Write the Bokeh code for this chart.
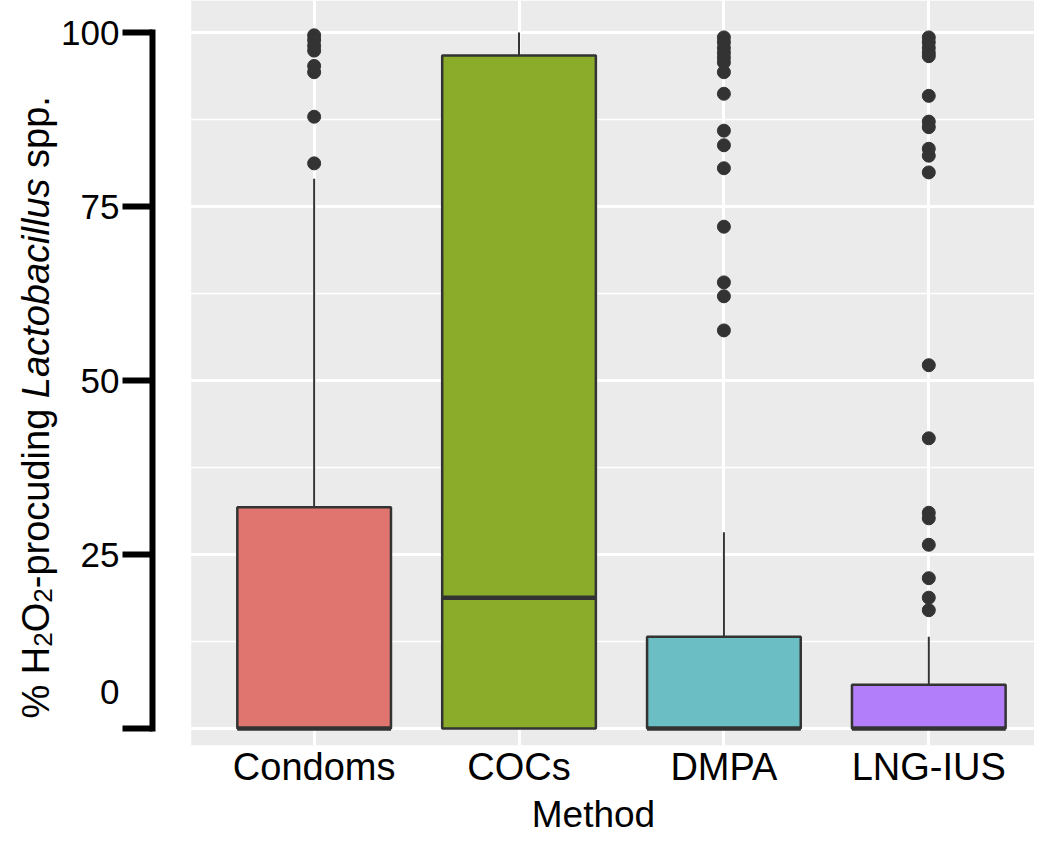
import math
from bokeh.plotting import figure
from bokeh.layouts import row
from bokeh.models import FixedTicker, BoxAnnotation, Range1d, LinearAxis
from bokeh.core.properties import value
from bokeh.embed import file_html
from bokeh.resources import INLINE

# ---------------- data ----------------
categories = ["Condoms", "COCs", "DMPA", "LNG-IUS"]
q1 = [0, 0, 0, 0]
medians = [0, 18.8, 0, 0]
q3 = [31.8, 96.7, 13.2, 6.3]
upper_whisker = [79.0, 100.0, 28.2, 13.2]
lower_whisker = [0, 0, 0, 0]

outliers_condoms = [99.6, 98.9, 98.1, 97.4, 95.2, 94.3, 87.9, 81.2]
outliers_cocs = []
outliers_dmpa = [99.3, 98.6, 97.8, 97.1, 96.4, 95.7, 94.3, 91.2, 85.9, 83.8,
                 80.5, 72.1, 64.1, 62.1, 57.2]
outliers_lng = [99.3, 98.6, 97.8, 97.1, 96.6, 90.9, 87.2, 86.4, 83.3, 82.3,
                79.9, 52.2, 41.7, 31.0, 30.2, 26.4, 21.6, 18.8, 17.0]

box_colors = ["#DF756E", "#8BAC2A", "#6BBEC3", "#B27EF9"]
y_ticks = [0, 25, 50, 75, 100]
y_tick_labels = ["0", "25", "50", "75", "100"]
# in the original the "0" label sits a little above its tick
y_tick_label_pos = [5.3, 25, 50, 75, 100]
y_minor = [12.5, 37.5, 62.5, 87.5]

FONT = "Liberation Sans"
H = 840
BOTTOM = 95
FRAME_H = H - BOTTOM
LEFT_W = 58

# ---------------- main figure ----------------
xs = [i + 1 for i in range(len(categories))]
p = figure(width=1034 - LEFT_W, height=H,
           x_range=Range1d(0.211, 4.516), y_range=Range1d(-2.44, 104.6),
           output_backend="svg", toolbar_location=None,
           min_border_left=150 - LEFT_W, min_border_right=0, min_border_top=0,
           min_border_bottom=BOTTOM)
p.outline_line_color = None
p.background_fill_color = "white"
p.border_fill_color = "white"

# gray ggplot panel (drawn below the grid)
panel = BoxAnnotation(left=0.4, fill_color="#EBEBEB", fill_alpha=1.0,
                      line_alpha=0, level="image")
p.add_layout(panel)

# grids
p.xgrid.ticker = FixedTicker(ticks=xs)
p.xgrid.grid_line_color = "white"
p.xgrid.grid_line_width = 3
p.ygrid.ticker = FixedTicker(ticks=y_ticks, minor_ticks=y_minor)
p.ygrid.grid_line_color = "white"
p.ygrid.grid_line_width = 3
p.ygrid.minor_grid_line_color = "white"
p.ygrid.minor_grid_line_width = 1.5

# y axis: line + ticks (bracket from 0 to 100)
ya = p.yaxis[0]
ya.ticker = FixedTicker(ticks=y_ticks)
ya.bounds = (0, 100)
ya.axis_line_color = "black"
ya.axis_line_width = 6
ya.axis_line_cap = "square"
ya.major_tick_line_color = "black"
ya.major_tick_line_width = 6
ya.major_tick_out = 30
ya.major_tick_in = 0
ya.minor_tick_line_color = None
ya.major_label_overrides = {t: "" for t in y_ticks}
ya.major_label_standoff = 0
ya.major_label_text_font_size = "1px"

# y axis: tick labels
yl = LinearAxis(ticker=FixedTicker(ticks=y_tick_label_pos),
                major_label_overrides={t: l for t, l in zip(y_tick_label_pos, y_tick_labels)},
                axis_line_color=None, major_tick_line_color=None,
                minor_tick_line_color=None, major_tick_out=0, major_tick_in=0,
                major_label_standoff=3, major_label_text_font=FONT,
                major_label_text_font_size="35px", major_label_text_color="black")
p.add_layout(yl, "left")

# x axis
xa = p.xaxis[0]
xa.ticker = FixedTicker(ticks=xs)
xa.major_label_overrides = {x: c for x, c in zip(xs, categories)}
xa.axis_line_color = None
xa.major_tick_line_color = None
xa.minor_tick_line_color = None
xa.major_tick_out = 0
xa.major_tick_in = 0
xa.major_label_standoff = 0
xa.major_label_text_font = FONT
xa.major_label_text_font_size = "38px"
xa.major_label_text_color = "black"
xa.axis_label = "Method"
xa.axis_label_text_font = FONT
xa.axis_label_text_font_size = "37px"
xa.axis_label_text_font_style = "normal"
xa.axis_label_text_color = "black"
xa.axis_label_standoff = 3

# ---------------- boxplots ----------------
half = 0.375
p.segment(x0=xs, y0=q3, x1=xs, y1=upper_whisker, line_color="#333333", line_width=2)
p.segment(x0=xs, y0=q1, x1=xs, y1=lower_whisker, line_color="#333333", line_width=2)
p.vbar(x=xs, width=2 * half, bottom=q1, top=q3, fill_color=box_colors,
       line_color="#333333", line_width=2.5)
p.segment(x0=[x - half for x in xs], y0=medians, x1=[x + half for x in xs], y1=medians,
          line_color="#333333", line_width=4.5)

ox, oy = [], []
for x, vals in zip(xs, [outliers_condoms, outliers_cocs, outliers_dmpa, outliers_lng]):
    ox += [x] * len(vals)
    oy += vals
p.scatter(ox, oy, size=13, color="#333333")

# ---------------- y axis title (mixed styles), in a narrow left strip ----------------
# the strip's frame is aligned with the main frame (0 .. FRAME_H px)
t = figure(width=LEFT_W, height=H, x_range=Range1d(0, LEFT_W), y_range=Range1d(FRAME_H, 0),
           output_backend="svg", toolbar_location=None,
           x_axis_location=None, y_axis_location=None,
           min_border_left=0, min_border_right=0, min_border_top=0,
           min_border_bottom=BOTTOM)
t.outline_line_color = None
t.grid.visible = False
t.background_fill_color = "white"
t.border_fill_color = "white"

W = {'%': 0.889, ' ': 0.278, 'H': 0.722, 'O': 0.778, '2': 0.556, '-': 0.333,
     'p': 0.556, 'r': 0.333, 'o': 0.556, 'c': 0.5, 'u': 0.556, 'd': 0.556,
     'i': 0.222, 'n': 0.556, 'g': 0.556, 'L': 0.556, 'a': 0.556, 't': 0.278,
     'b': 0.556, 'l': 0.222, 's': 0.5, '.': 0.278}
S = 38
SUB = 26
pieces = [("% H", "normal", S, 0), ("2", "normal", SUB, 7), ("O", "normal", S, 0),
          ("2", "normal", SUB, 7), ("-procuding", "normal", S, 0), (" ", None, S, 0),
          ("Lactobacillus", "italic", S, 0), (" ", None, S, 0), ("spp.", "normal", S, 0)]
tx, ty, tt, tsz, tst = [], [], [], [], []
ycur = 718
base_x = 35
for text, style, size, shift in pieces:
    if style is not None:
        tx.append(base_x + shift)
        ty.append(ycur)
        tt.append(text)
        tsz.append(f"{size}px")
        tst.append(style)
    ycur -= sum(W[c] for c in text) * size
t.text(x=tx, y=ty, text=tt, angle=math.pi / 2, text_font=value(FONT),
       text_font_size=tsz, text_font_style=tst, text_align="left",
       text_baseline="alphabetic", text_color="black")

layout = row(t, p, spacing=0)
open("out.html", "w").write(file_html(layout, INLINE))
